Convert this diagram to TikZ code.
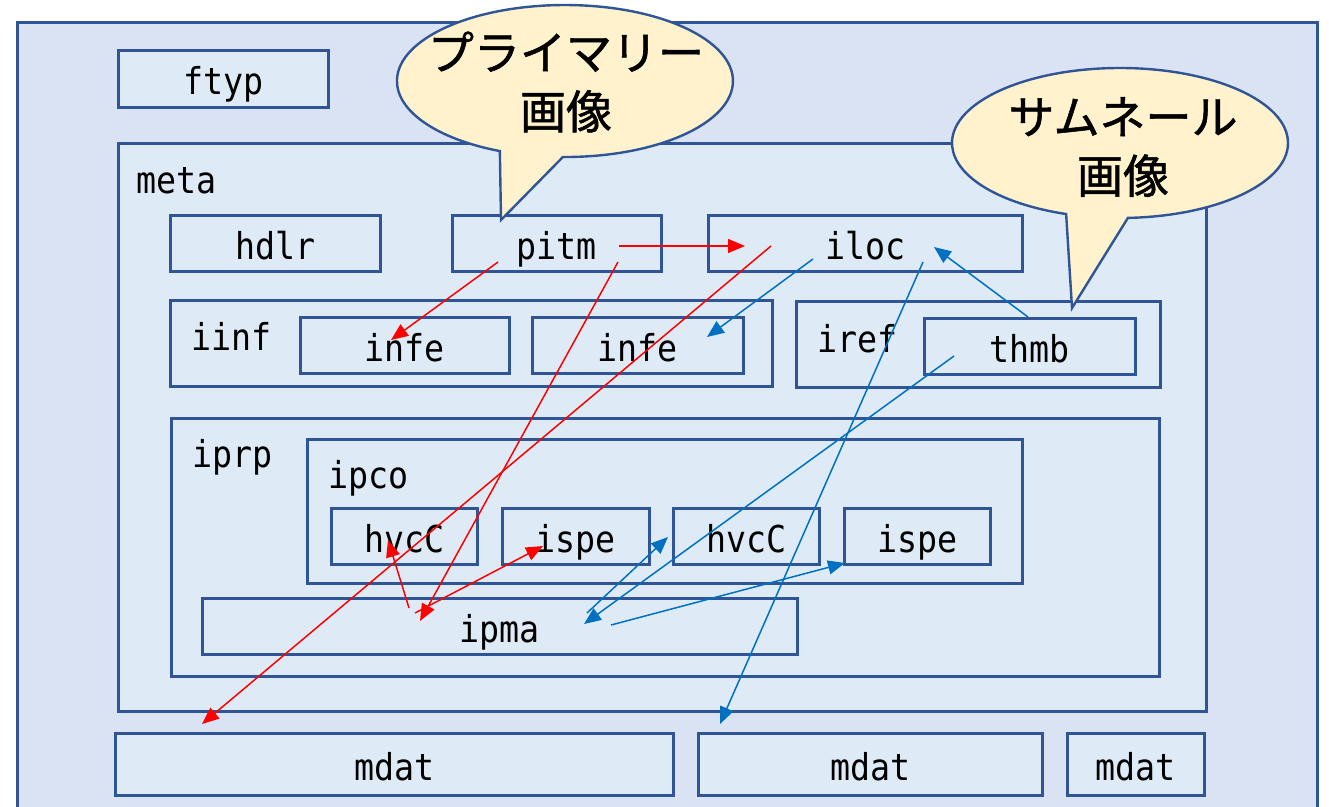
\documentclass[tikz,border=0pt]{standalone}
\usepackage{fontspec}
\usetikzlibrary{arrows.meta}
\newfontfamily\boxfont[FakeStretch=0.9]{DejaVu Sans Mono}
\newfontfamily\jpfont[FakeBold=1.2]{Noto Sans CJK JP}
\definecolor{filebg}{HTML}{DAE3F3}
\definecolor{boxbg}{HTML}{DEEBF7}
\definecolor{edge}{HTML}{2F5597}
\definecolor{balloon}{HTML}{FFF2CC}
\definecolor{primred}{HTML}{FF0000}
\definecolor{thumbblue}{HTML}{0070C0}
% a box given by its corners (x1,y1) and (x2,y2)
\newcommand\boxnode[6]{%
  \node[box, anchor=north west, minimum width={#4pt-#2pt}, minimum height={#5pt-#3pt}]
    (#1) at (#2,#3) {#6};}
\begin{document}
\begin{tikzpicture}[x=1pt, y=-1pt,
  box/.style={draw=edge, line width=2.8pt, fill=boxbg, inner sep=0pt,
    font=\boxfont\fontsize{37}{37}\selectfont, text height=32pt, text depth=0pt},
  boxlabel/.style={anchor=base west, inner sep=0pt, font=\boxfont\fontsize{37}{37}\selectfont},
  callout/.style={draw=edge, line width=2.4pt, fill=balloon, line join=miter},
  callouttext/.style={inner sep=0pt, align=center, font=\jpfont\fontsize{46}{59}\selectfont},
  redlink/.style={draw=primred, line width=1.5pt, -{Triangle[length=17pt,width=14pt]}},
  bluelink/.style={draw=thumbblue, line width=1.5pt, -{Triangle[length=17pt,width=14pt]}}]
\useasboundingbox (0,0) rectangle (1329,806);
\clip (0,0) rectangle (1329,806);

% file
\node[draw=edge, line width=2.8pt, fill=filebg, inner sep=0pt, anchor=north west,
  minimum width=1300pt, minimum height=820pt] (file) at (16,21) {};

\boxnode{ftyp}{117}{49}{327}{106}{ftyp}

% meta and its children
\boxnode{meta}{117}{142}{1205}{710}{}
\node[boxlabel] (metalabel) at (136,193) {meta};
\boxnode{hdlr}{169}{214}{379}{270}{hdlr}
\boxnode{pitm}{451}{214}{660}{270}{pitm}
\boxnode{iloc}{707}{214}{1021}{270}{iloc}

\boxnode{iinf}{169}{299}{771}{385}{}
\node[boxlabel] (iinflabel) at (191,350) {iinf};
\boxnode{infeA}{299}{316}{508}{372}{infe}
\boxnode{infeB}{531}{316}{742}{372}{infe}

\boxnode{iref}{795}{300}{1159}{386}{}
\node[boxlabel] (ireflabel) at (817,352) {iref};
\boxnode{thmb}{923}{317}{1134}{373}{thmb}

\boxnode{iprp}{170}{417}{1158}{675}{}
\node[boxlabel] (iprplabel) at (192,467) {iprp};
\boxnode{ipco}{306}{438}{1021}{582}{}
\node[boxlabel] (ipcolabel) at (328,488) {ipco};
\boxnode{hvcCA}{330}{507}{476}{563}{hvcC}
\boxnode{ispeA}{501}{507}{648}{563}{ispe}
\boxnode{hvcCB}{672}{507}{818}{563}{hvcC}
\boxnode{ispeB}{843}{507}{989}{563}{ispe}
\boxnode{ipma}{201}{597}{796}{653}{ipma}

% media data
\boxnode{mdatA}{114}{732}{672}{794}{mdat}
\boxnode{mdatB}{697}{732}{1041}{794}{mdat}
\boxnode{mdatC}{1066}{732}{1203}{794}{mdat}

% speech balloons
\path[callout] (562.9,157) arc[start angle=90.7, end angle=-247.2, x radius=168, y radius=76]
  -- (501,220) -- cycle;
\node[callouttext] (primary) at (566,82) {プライマリー\\画像};
\path[callout] (1127.9,217.9) arc[start angle=87.3, end angle=-251.3, x radius=168, y radius=75]
  -- (1072,308) -- cycle;
\node[callouttext] (thumb) at (1123,147) {サムネール\\画像};

% link end points
\coordinate (pitmE) at (619,246);   \coordinate (ilocW) at (745,246);
\coordinate (pitmSW) at (498,262);  \coordinate (infeAin) at (391,340);
\coordinate (pitmSE) at (618,262);  \coordinate (ipmaRed) at (420,621);
\coordinate (ilocRed) at (771,246); \coordinate (mdatAtop) at (202,724);
\coordinate (ipmaH) at (409,608);   \coordinate (hvcCAin) at (388,540);
\coordinate (ipmaI) at (415,613);   \coordinate (ispeAin) at (543,546);

\coordinate (ilocSW) at (813,259);  \coordinate (infeBin) at (707,337);
\coordinate (thmbN) at (1028,317);  \coordinate (ilocIn) at (934,247);
\coordinate (ilocS) at (923,262);   \coordinate (mdatBtop) at (720,724);
\coordinate (thmbW) at (954,356);   \coordinate (ipmaBlue) at (584,624);
\coordinate (ipmaK) at (587,613);   \coordinate (hvcCBin) at (668,537);
\coordinate (ipmaL) at (611,625);   \coordinate (ispeBin) at (845,563);

% primary image references
\draw[redlink] (pitmE) -- (ilocW);
\draw[redlink] (pitmSW) -- (infeAin);
\draw[redlink] (pitmSE) -- (ipmaRed);
\draw[redlink] (ilocRed) -- (mdatAtop);
\draw[redlink] (ipmaH) -- (hvcCAin);
\draw[redlink] (ipmaI) -- (ispeAin);

% thumbnail references
\draw[bluelink] (ilocSW) -- (infeBin);
\draw[bluelink] (thmbN) -- (ilocIn);
\draw[bluelink] (ilocS) -- (mdatBtop);
\draw[bluelink] (thmbW) -- (ipmaBlue);
\draw[bluelink] (ipmaK) -- (hvcCBin);
\draw[bluelink] (ipmaL) -- (ispeBin);
\end{tikzpicture}
\end{document}
